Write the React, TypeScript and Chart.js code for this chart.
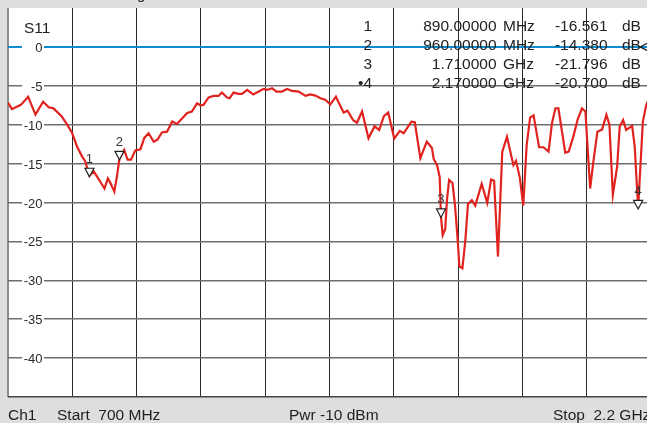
import React, { useEffect, useRef } from "react";
import { Chart, registerables } from "chart.js";

Chart.register(...registerables);

// ---- data ----
const freqMHz = [
  700, 709, 730, 747, 764, 782, 795, 806, 825, 838,
  849, 861, 873, 880, 890, 900, 915, 925, 933, 939,
  948, 954, 960, 971, 979, 987, 997, 1009, 1018, 1028,
  1040, 1049, 1059, 1071, 1083, 1094, 1106, 1118, 1129, 1141,
  1149, 1156, 1168, 1180, 1191, 1199, 1211, 1217, 1226, 1238,
  1246, 1258, 1272, 1285, 1296, 1304, 1316, 1326, 1339, 1351,
  1363, 1378, 1394, 1405, 1417, 1429, 1440, 1452, 1465, 1474,
  1483, 1492, 1505, 1514, 1526, 1541, 1555, 1566, 1577, 1587,
  1601, 1614, 1623, 1641, 1649, 1662, 1677, 1689, 1693, 1701,
  1707, 1710, 1714, 1720, 1724, 1729, 1737, 1743, 1749, 1753,
  1760, 1767, 1773, 1782, 1790, 1805, 1818, 1827, 1834, 1843,
  1853, 1864, 1879, 1885, 1894, 1902, 1910, 1918, 1926, 1939,
  1949, 1961, 1969, 1977, 1984, 2000, 2008, 2019, 2029, 2039,
  2047, 2058, 2065, 2075, 2086, 2096, 2103, 2111, 2121, 2127,
  2135, 2142, 2156, 2162, 2170, 2181, 2189, 2200,
];

const s11dB = [
  -7.16, -8.0, -7.45, -6.4, -8.7, -7.05, -7.75, -7.9, -8.9, -10.0,
  -11.0, -12.8, -14.1, -14.7, -16.56, -16.0, -17.3, -18.2, -16.9, -17.5,
  -18.6, -16.7, -14.38, -13.25, -14.5, -14.5, -13.3, -13.15, -11.7, -11.1,
  -12.2, -11.9, -11.0, -10.9, -9.6, -9.9, -9.2, -8.5, -8.3, -7.24,
  -7.5, -7.45, -6.5, -6.3, -6.3, -5.87, -6.5, -6.6, -5.87, -6.04,
  -6.04, -5.53, -6.1, -5.74, -5.4, -5.53, -5.3, -5.74, -5.74, -5.4,
  -5.66, -5.74, -6.3, -6.1, -6.26, -6.6, -6.8, -7.4, -6.4, -7.45,
  -8.44, -8.2, -9.4, -9.75, -8.3, -11.74, -10.2, -10.67, -8.9, -8.44,
  -11.8, -10.8, -11.1, -9.6, -9.68, -14.3, -12.17, -13.0, -14.4, -15.2,
  -16.7, -21.8, -24.2, -23.4, -19.7, -17.1, -17.5, -20.5, -24.8, -28.2,
  -28.45, -24.8, -20.2, -19.7, -20.4, -17.6, -20.05, -17.05, -17.2, -26.95,
  -13.5, -11.55, -15.2, -14.65, -16.8, -20.4, -12.6, -9.1, -8.8, -12.9,
  -12.9, -13.46, -9.8, -7.9, -7.9, -13.6, -13.46, -11.5, -9.3, -7.9,
  -8.3, -18.2, -15.0, -10.9, -10.6, -8.74, -10.0, -19.0, -15.4, -10.24,
  -9.4, -10.67, -10.15, -12.8, -20.7, -9.6, -7.45, -6.0,
];

const markerIds = ["1", "2", "3", "4"];
const markerFreqMHz = [890, 960, 1710, 2170];
const markerDb = [-16.561, -14.38, -21.796, -20.7];
const markerFreqText = ["890.00000", "960.00000", "1.710000", "2.170000"];
const markerUnitText = ["MHz", "MHz", "GHz", "GHz"];
const activeMarker = "4";

const traceName = "S11";
const headerText = "Trc1  S11  dB Mag  5 dB /  Ref 0 dB";
const footerChannel = "Ch1";
const footerStart = "Start  700 MHz";
const footerPower = "Pwr -10 dBm";
const footerStop = "Stop  2.2 GHz";

const xMin = 700;
const xMax = 2200;
const xStep = 150;
const yMin = -45;
const yMax = 5;
const yStep = 5;
const refLevel = 0;

const FONT = '"Liberation Sans", Arial, sans-serif';

const analyzerPlugin = {
  id: "analyzer",
  beforeDraw(chart: any) {
    const { ctx, chartArea } = chart;
    ctx.save();
    ctx.fillStyle = "#dedede";
    ctx.fillRect(0, 0, chart.width, chart.height);
    ctx.fillStyle = "#ffffff";
    ctx.fillRect(chartArea.left, chartArea.top, chartArea.right - chartArea.left, chartArea.bottom - chartArea.top);
    ctx.restore();
  },
  beforeDatasetsDraw(chart: any) {
    const { ctx, chartArea } = chart;
    const yScale = chart.scales.y;
    ctx.save();
    // y tick labels inside the plot, over a white gap
    ctx.font = `13px ${FONT}`;
    ctx.textAlign = "right";
    ctx.textBaseline = "middle";
    for (const t of yScale.ticks) {
      if (t.value === yMin || t.value === yMax) continue;
      const py = yScale.getPixelForValue(t.value);
      ctx.fillStyle = "#ffffff";
      ctx.fillRect(chartArea.left + 14, py - 3, 22, 6);
      ctx.fillStyle = "#2a2a2a";
      ctx.fillText(String(t.value), chartArea.left + 34.5, py + 1.5);
    }
    // trace name
    ctx.textAlign = "left";
    ctx.textBaseline = "alphabetic";
    ctx.font = `15.5px ${FONT}`;
    ctx.fillStyle = "#222";
    ctx.fillText(traceName, chartArea.left + 16, 33);

    // header text (only its descender is visible)
    ctx.font = `15px ${FONT}`;
    const pre = "Trc1  S11  dB Ma";
    const hx = 137 - ctx.measureText(pre).width;
    ctx.fillText(headerText, hx, -1);

    // marker table
    ctx.font = `15.5px ${FONT}`;
    ctx.fillStyle = "#222";
    const rowY = [31, 50, 69, 88];
    markerIds.forEach((id, i) => {
      const y = rowY[i];
      ctx.textAlign = "right";
      ctx.fillText((id === activeMarker ? "\u2022" : "") + id, 372, y);
      ctx.fillText(markerFreqText[i], 496.5, y);
      ctx.fillText(markerDb[i].toFixed(3), 607.5, y);
      ctx.textAlign = "left";
      ctx.fillText(markerUnitText[i], 503, y);
      ctx.fillText("dB", 622, y);
    });
    ctx.restore();
  },
  afterDatasetsDraw(chart: any) {
    const { ctx, chartArea } = chart;
    const xScale = chart.scales.x;
    const yScale = chart.scales.y;
    ctx.save();
    // markers
    markerIds.forEach((id, i) => {
      const px = xScale.getPixelForValue(markerFreqMHz[i]);
      const py = yScale.getPixelForValue(markerDb[i]) + 1;
      ctx.beginPath();
      ctx.moveTo(px, py);
      ctx.lineTo(px - 4.5, py - 8.5);
      ctx.lineTo(px + 4.5, py - 8.5);
      ctx.closePath();
      ctx.fillStyle = "#ffffff";
      ctx.fill();
      ctx.strokeStyle = "#222";
      ctx.lineWidth = 1.2;
      ctx.stroke();
      ctx.font = `13px ${FONT}`;
      ctx.fillStyle = "#333";
      ctx.textAlign = "center";
      ctx.textBaseline = "alphabetic";
      ctx.fillText(id, px, py - 14);
    });
    // reference level indicator at right edge
    const ry = yScale.getPixelForValue(refLevel);
    const rx = chartArea.right - 11;
    ctx.beginPath();
    ctx.moveTo(rx + 10, ry - 5);
    ctx.lineTo(rx, ry);
    ctx.lineTo(rx + 10, ry + 5);
    ctx.strokeStyle = "#222";
    ctx.lineWidth = 1.2;
    ctx.stroke();
    ctx.restore();
  },
  afterDraw(chart: any) {
    const { ctx } = chart;
    ctx.save();
    ctx.font = `15.5px ${FONT}`;
    ctx.fillStyle = "#222";
    ctx.textAlign = "left";
    ctx.textBaseline = "alphabetic";
    ctx.fillText(footerChannel, 8, 420);
    ctx.fillText(footerStart, 57, 420);
    ctx.fillText(footerPower, 289, 420);
    ctx.fillText(footerStop, 553, 420);
    ctx.restore();
  },
};

export default function App() {
  const canvasRef = useRef<HTMLCanvasElement | null>(null);

  useEffect(() => {
    const canvas = canvasRef.current;
    if (!canvas) return;
    const chart = new Chart(canvas, {
      type: "line",
      data: {
        datasets: [
          {
            label: traceName,
            data: freqMHz.map((f, i) => ({ x: f, y: s11dB[i] })),
            borderColor: "#e0231f",
            borderWidth: 2.2,
            pointRadius: 0,
            tension: 0,
            fill: false,
          },
        ],
      },
      options: {
        responsive: false,
        animation: false,
        devicePixelRatio: 1,
        events: [],
        layout: { padding: { left: 8, top: 8, right: 29, bottom: 26 } },
        plugins: {
          legend: { display: false },
          tooltip: { enabled: false },
          title: { display: false },
        },
        scales: {
          x: {
            type: "linear",
            min: xMin,
            max: xMax,
            ticks: { display: false, stepSize: xStep },
            grid: {
              drawTicks: false,
              color: (c: any) => (c.tick && c.tick.value === xMin ? "#8c8c8c" : "#2a2a2a"),
              lineWidth: (c: any) => (c.tick && c.tick.value === xMin ? 2 : 1),
            },
            border: { display: false },
          },
          y: {
            type: "linear",
            min: yMin,
            max: yMax,
            ticks: { display: false, stepSize: yStep },
            grid: {
              drawTicks: false,
              color: (c: any) => {
                const v = c.tick ? c.tick.value : null;
                if (v === yMax) return "rgba(0,0,0,0)";
                if (v === refLevel) return "#0a8bd2";
                if (v === yMin) return "#444";
                return "#6e6e6e";
              },
              lineWidth: (c: any) => {
                const v = c.tick ? c.tick.value : null;
                if (v === refLevel) return 2;
                return 1.5;
              },
            },
            border: { display: false },
          },
        },
      },
      plugins: [analyzerPlugin],
    } as any);
    return () => chart.destroy();
  }, []);

  return (
    <div
      style={{
        position: "fixed",
        left: 0,
        top: 0,
        width: 647,
        height: 423,
        overflow: "hidden",
        background: "#dedede",
      }}
    >
      <canvas ref={canvasRef} width={680} height={423} style={{ display: "block", width: 680, height: 423 }} />
    </div>
  );
}
